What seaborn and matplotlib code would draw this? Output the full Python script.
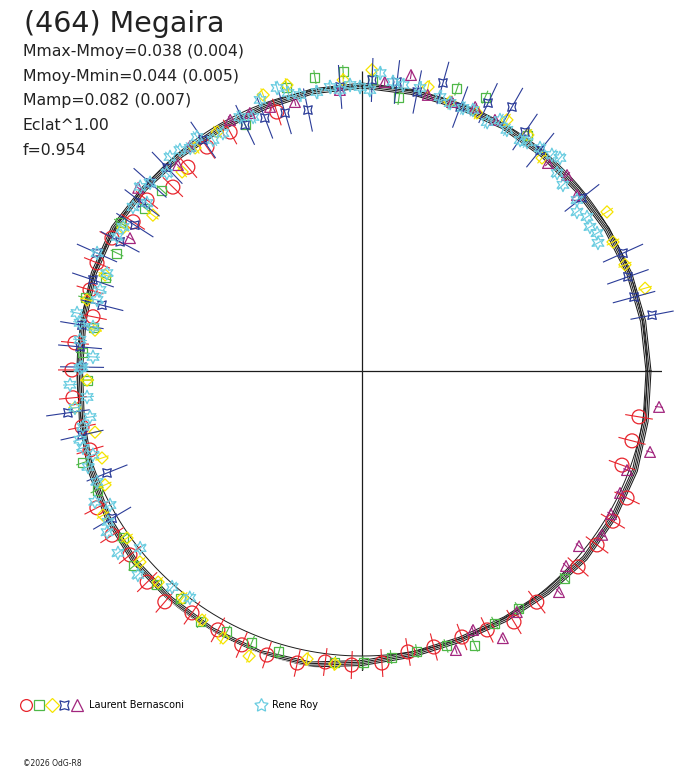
import numpy as np
import matplotlib
matplotlib.use("Agg")
import matplotlib.pyplot as plt
from matplotlib.lines import Line2D
from matplotlib.legend_handler import HandlerTuple
import seaborn as sns

# ---------------- data (angle in degrees, radius in plot units) ----------------
TITLE = "(464) Megaira"
STATS = ["Mmax-Mmoy=0.038 (0.004)", "Mmoy-Mmin=0.044 (0.005)",
         "Mamp=0.082 (0.007)", "Eclat^1.00", "f=0.954"]
OBSERVERS = ["Laurent Bernasconi", "Rene Roy"]
FOOTER = "\u00a92026 OdG-R8"

MODEL_ANG = [0, 10, 20, 30, 40, 50, 60, 70, 80, 90, 100, 110, 120, 130, 140, 150, 160, 170,
             180, 190, 200, 210, 220, 230, 240, 250, 260, 270, 280, 290, 300, 310, 320, 330, 340, 350]
MODEL_R = [286.5, 285.5, 284.5, 283, 281.5, 282, 282.5, 282, 283.5, 285.5,
           284, 281.5, 281, 282, 284, 286.5, 285.5, 283, 282, 284.5,
           289, 293.5, 296.5, 298, 299.5, 300, 298, 292, 288, 286,
           286.5, 288.5, 291, 291, 290.5, 288]
MODEL_OFFSETS = [-2.5, -0.8, 0.8, 2.5]
REF_RADIUS = 285.0
AXIS_RADIUS = 300.0

RED_ANG = [108.2, 118.9, 124.7, 130.5, 135.8, 141.5, 146.9, 152.0, 157.8, 163.4, 168.6, 174.4, 179.8, 185.3,
           191.3, 196.2, 207.3, 213.3, 218.4, 224.5, 229.5, 234.9, 240.9, 246.3, 251.5, 257.5, 262.8, 268.0,
           273.9, 279.3, 284.6, 290.6, 295.8, 301.2, 307.1, 317.8, 323.5, 329.1, 334.4, 340.1, 345.5, 350.6]
RED_R = [272.6, 273.0, 272.4, 268.1, 263.8, 274.7, 273.2, 283.2, 286.2, 283.8, 274.4, 288.4, 290.0, 290.3,
         285.5, 283.2, 298.3, 299.0, 296.1, 301.2, 303.6, 295.7, 296.3, 299.1, 299.5, 299.1, 293.3, 294.2,
         292.7, 284.7, 285.2, 284.2, 287.6, 293.4, 289.8, 291.7, 292.4, 292.4, 293.9, 276.5, 278.9, 280.8]
RED_ERR = 14.0

GREEN_ANG = [99.1, 93.6, 104.8, 115.4, 137.9, 143.1, 148.5, 154.3, 160.1, 165.2, 170.9, 176.3, 82.3, 71.4,
             65.8, 55.0, 88.0, 181.9, 198.2, 204.2, 214.8, 220.5, 226.0, 231.4, 237.3, 242.6, 247.9, 253.5,
             264.7, 270.2, 275.8, 281.1, 287.0, 292.4, 297.8, 303.5, 314.4]
GREEN_R = [297.7, 299.6, 293.7, 272.4, 269.7, 271.4, 283.7, 271.9, 273.3, 286.5, 272.4, 279.6, 275.5, 297.6,
           300.3, 288.0, 291.2, 275.1, 293.8, 290.5, 291.0, 300.0, 296.3, 291.7, 298.2, 293.8, 292.5, 293.0,
           293.2, 292.0, 287.5, 285.4, 287.5, 296.4, 284.9, 284.3, 289.9]
GREEN_ERR = 7.0

YELLOW_ANG = [104.7, 109.7, 93.7, 121.2, 126.8, 132.1, 143.3, 149.1, 159.5, 165.5, 171.3, 88.1, 76.9, 71.9,
              66.0, 60.0, 54.9, 49.8, 33.0, 27.2, 22.0, 16.3, 181.9, 187.3, 192.9, 198.5, 203.9, 209.1,
              215.4, 220.7, 226.0, 231.7, 237.3, 242.5, 248.4, 259.2, 264.7]
YELLOW_R = [295.7, 293.2, 291.6, 279.5, 278.6, 268.3, 260.8, 278.5, 274.3, 284.0, 270.1, 301.2, 291.6, 283.0,
            282.5, 289.9, 288.5, 278.9, 292.1, 282.2, 283.6, 294.9, 275.1, 289.4, 273.9, 274.2, 281.1, 296.3,
            288.3, 292.9, 293.5, 289.1, 296.0, 301.0, 306.6, 293.2, 294.2]
YELLOW_ERR = 7.0

BLUE_ANG = [101.7, 106.6, 111.0, 115.4, 124.5, 133.8, 138.4, 142.6, 147.3, 151.9, 156.0, 161.3, 165.8, 170.7,
            175.1, 179.2, 94.4, 88.0, 83.1, 78.8, 74.3, 69.6, 64.8, 60.4, 55.7, 51.1, 38.2, 24.3, 19.5, 15.2,
            10.9, 188.1, 192.9, 201.8, 210.5]
BLUE_R = [266.5, 269.2, 271.0, 272.4, 280.4, 281.5, 283.4, 276.8, 269.9, 274.2, 290.1, 284.0, 268.2, 283.8,
          283.0, 280.0, 284.9, 291.2, 291.1, 284.4, 299.2, 281.6, 296.1, 303.6, 289.3, 283.8, 279.9, 286.4,
          282.1, 281.9, 295.4, 297.0, 287.2, 274.6, 290.0]
BLUE_ERR = 22.0

PURPLE_ANG = [104.0, 109.2, 113.5, 117.7, 127.4, 131.8, 140.7, 150.2, 94.5, 85.5, 80.6, 76.6, 71.5, 66.8,
              62.1, 48.2, 43.7, 39.3, 353.1, 344.3, 339.5, 334.7, 330.1, 325.7, 321.1, 316.3, 311.7, 302.7,
              297.8, 293.2, 288.6]
PURPLE_R = [277.2, 279.6, 281.3, 283.6, 283.2, 276.2, 289.2, 267.4, 281.9, 289.9, 300.0, 283.8, 283.7, 287.2,
            284.1, 279.0, 283.6, 277.8, 299.2, 299.2, 282.9, 285.4, 287.1, 290.7, 278.8, 282.2, 296.1, 286.5,
            302.0, 281.8, 294.4]
PURPLE_ERR = 4.0

CYAN_ANG = [106.7, 104.9, 102.7, 99.2, 96.4, 94.5, 92.4, 90.4, 110.6, 113.2, 115.7, 120.3, 122.8, 125.2,
            127.6, 129.5, 131.9, 134.6, 138.4, 140.3, 144.4, 142.0, 148.9, 151.3, 156.0, 159.0, 162.8, 165.0,
            168.5, 170.3, 170.7, 173.7, 177.0, 179.2,
            86.5, 88.4, 83.9, 81.8, 78.4, 74.1, 71.8, 69.0, 67.0, 63.3, 61.2, 59.0, 55.6, 54.2, 51.4, 48.7,
            47.1, 45.4, 42.8, 38.5, 36.5, 34.4, 32.3, 30.4, 28.5,
            179.4, 182.7, 185.4, 187.3, 189.6, 191.3, 193.7, 195.4, 197.3, 199.3, 202.7, 206.1, 208.0, 210.7,
            212.3, 216.7, 218.6, 222.3, 228.7, 232.8]
CYAN_R = [295.5, 287.7, 282.9, 282.6, 285.8, 281.9, 286.3, 284.0, 289.6, 276.4, 281.8, 275.6, 274.9, 286.3,
          281.6, 286.3, 287.5, 277.9, 283.4, 288.3, 281.7, 272.9, 279.0, 279.2, 290.0, 273.2, 274.2, 274.3,
          290.8, 286.0, 272.6, 283.7, 269.4, 280.0,
          298.5, 281.1, 290.7, 288.9, 288.9, 284.9, 282.1, 281.7, 283.6, 278.6, 286.4, 281.3, 279.9, 282.2,
          285.3, 287.7, 290.8, 277.9, 273.9, 274.7, 267.4, 272.7, 269.7, 272.5, 268.5,
          282.0, 292.3, 276.2, 289.4, 275.9, 284.6, 290.3, 289.4, 281.8, 290.3, 287.3, 297.4, 285.4, 295.5,
          301.6, 304.4, 283.9, 303.0, 287.7, 284.8]
CYAN_ERR = 7.0

# ---------------- figure ----------------
W, H, DPI = 688, 768, 100
fig = plt.figure(figsize=(W / DPI, H / DPI), dpi=DPI)
fig.patch.set_facecolor("white")
plt.rcParams["font.family"] = ["DejaVu Sans"]

CX, CY = 362, 371  # centre in pixels (from top-left)
ax = fig.add_axes([(CX - AXIS_RADIUS) / W, (H - CY - AXIS_RADIUS) / H,
                   2 * AXIS_RADIUS / W, 2 * AXIS_RADIUS / H], projection="polar")
ax.set_rlim(0, AXIS_RADIUS)
ax.grid(False)
ax.set_xticks([])
ax.set_yticks([])
ax.spines["polar"].set_visible(False)
ax.patch.set_alpha(0)

LINE_C = "#1c1c1c"
# axes cross
ax.vlines(np.deg2rad([0, 90, 180, 270]), 0, AXIS_RADIUS, color=LINE_C, lw=0.9, zorder=1)

# reference circle
t_ref = np.linspace(0, 2 * np.pi, 721)
sns.lineplot(x=t_ref, y=np.full_like(t_ref, REF_RADIUS), sort=False, estimator=None,
             color=LINE_C, lw=0.7, ax=ax, zorder=2)

# model curves
m_ang = np.deg2rad(np.array(MODEL_ANG + [360]))
m_r = np.array(MODEL_R + [MODEL_R[0]])
for off in MODEL_OFFSETS:
    sns.lineplot(x=m_ang, y=m_r + off, sort=False, estimator=None,
                 color=LINE_C, lw=0.75, ax=ax, zorder=2)

series = [
    (RED_ANG, RED_R, RED_ERR, "#e8242c", "o", 100),
    (GREEN_ANG, GREEN_R, GREEN_ERR, "#4fb848", "s", 42),
    (YELLOW_ANG, YELLOW_R, YELLOW_ERR, "#f5e400", "D", 38),
    (BLUE_ANG, BLUE_R, BLUE_ERR, "#2b3c98", (4, 1, 45), 75),
    (PURPLE_ANG, PURPLE_R, PURPLE_ERR, "#a2267e", "^", 60),
    (CYAN_ANG, CYAN_R, CYAN_ERR, "#68cce0", (6, 1, 0), 95),
]
for z, (ang, r, err, col, mk, size) in enumerate(series):
    th = np.deg2rad(np.array(ang))
    rr = np.array(r)
    ax.vlines(th, rr - err, rr + err, color=col, lw=0.8, zorder=3 + z, clip_on=False)
    sns.scatterplot(x=th, y=rr, marker=mk, s=size, color=col, facecolor="none",
                    edgecolor=col, linewidth=0.9, ax=ax, zorder=3 + z, clip_on=False)
ax.set_xlabel("")
ax.set_ylabel("")
ax.set_rlim(0, AXIS_RADIUS)

# ---------------- texts ----------------
def fy(py):
    return 1 - py / H

fig.text(24 / W, fy(32), TITLE, fontsize=20.5, color="#222222", ha="left", va="baseline")
for i, s in enumerate(STATS):
    fig.text(23 / W, fy(56 + i * 24.75), s, fontsize=11.3, color="#222222", ha="left", va="baseline")

# legend
hcols = ["#e8242c", "#4fb848", "#f5e400", "#2b3c98", "#a2267e"]
hmk = ["o", "s", "D", (4, 1, 45), "^"]
hsz = [8.5, 6.5, 7, 9.5, 8.5]
handles = tuple(Line2D([], [], ls="none", marker=m, markersize=ms, markerfacecolor="none",
                       markeredgecolor=c, markeredgewidth=0.9)
                for c, m, ms in zip(hcols, hmk, hsz))
fig.legend([handles], [OBSERVERS[0]], handler_map={tuple: HandlerTuple(ndivide=None, pad=0.2)},
           loc="center left", bbox_to_anchor=(21 / W, fy(705)), frameon=False, fontsize=7,
           handlelength=6.3, handletextpad=0.65, borderpad=0, borderaxespad=0)
cyan_h = Line2D([], [], ls="none", marker=(5, 1, 0), markersize=10, markerfacecolor="none",
                markeredgecolor="#68cce0", markeredgewidth=0.9)
fig.legend([cyan_h], [OBSERVERS[1]], loc="center left", bbox_to_anchor=(255 / W, fy(705)),
           frameon=False, fontsize=7, handlelength=1.2, handletextpad=0.6,
           borderpad=0, borderaxespad=0)

fig.text(23 / W, fy(766), FOOTER, fontsize=5.5, color="#222222", ha="left", va="baseline")

fig.savefig("out.png", dpi=DPI, facecolor="white")
